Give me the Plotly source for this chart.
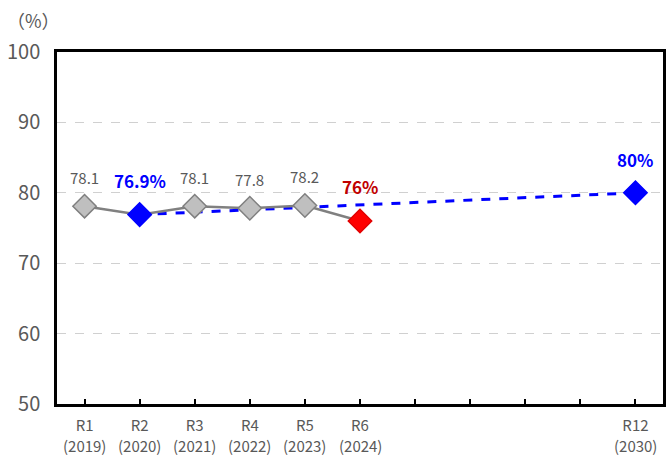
import plotly.graph_objects as go

# 11 category slots: R1..R6, four empty slots, R12
slot_labels = ["R1", "R2", "R3", "R4", "R5", "R6", "", "", "", "", "R12"]
year_labels = ["(2019)", "(2020)", "(2021)", "(2022)", "(2023)", "(2024)", "", "", "", "", "(2030)"]

actual_x = [0, 1, 2, 3, 4, 5]
actual_y = [78.1, 76.9, 78.1, 77.8, 78.2, 76.0]
actual_text = ["78.1", "76.9%", "78.1", "77.8", "78.2", "76%"]

target_x = [1, 10]
target_y = [76.9, 80.0]
target_text = ["76.9%", "80%"]

GRAY_TXT = "#595959"
FONT = "Noto Sans CJK JP, Noto Sans, sans-serif"

fig = go.Figure()

# target (dashed blue)
fig.add_trace(go.Scatter(
    x=target_x, y=target_y, mode="lines",
    line=dict(color="#0000FF", width=3, dash="dash"),
    hoverinfo="skip", showlegend=False,
))

# actual (gray line)
fig.add_trace(go.Scatter(
    x=actual_x, y=actual_y, mode="lines+markers",
    line=dict(color="#808080", width=2.5),
    marker=dict(symbol="diamond", size=18,
                color=["#BFBFBF", "#0000FF", "#BFBFBF", "#BFBFBF", "#BFBFBF", "#FF0000"],
                line=dict(color=["#7F7F7F", "#0000FF", "#7F7F7F", "#7F7F7F", "#7F7F7F", "#E00000"], width=1.5)),
    showlegend=False,
))

# target end point
fig.add_trace(go.Scatter(
    x=[target_x[-1]], y=[target_y[-1]], mode="markers",
    marker=dict(symbol="diamond", size=18, color="#0000FF", line=dict(color="#0000FF", width=1.5)),
    showlegend=False,
))

# data labels
for i, (x, y, t) in enumerate(zip(actual_x, actual_y, actual_text)):
    if i == 1:
        font = dict(size=17, color="#0000FF", family=FONT)
        t = "<b>" + t + "</b>"
        shift = 34
    elif i == 5:
        font = dict(size=17, color="#C00000", family=FONT)
        t = "<b>" + t + "</b>"
        shift = 34
    else:
        font = dict(size=15, color=GRAY_TXT, family=FONT)
        shift = 29
    fig.add_annotation(x=x, y=y, text=t, showarrow=False, yshift=shift, font=font)

fig.add_annotation(x=target_x[-1], y=target_y[-1], text="<b>" + target_text[-1] + "</b>",
                   showarrow=False, yshift=33,
                   font=dict(size=17, color="#0000FF", family=FONT))

# year row under the tick labels
for i, yl in enumerate(year_labels):
    if yl:
        fig.add_annotation(x=i, y=0, yref="paper", yanchor="middle", text=yl,
                           showarrow=False, yshift=-41, borderpad=0,
                           font=dict(size=15, color=GRAY_TXT, family=FONT))

# unit label
fig.add_annotation(x=0, y=1, xref="paper", yref="paper", text="（%）",
                   xanchor="center", yanchor="middle",
                   showarrow=False, xshift=-24, yshift=32,
                   font=dict(size=18, color=GRAY_TXT, family=FONT))

fig.update_xaxes(
    range=[-0.5, 10.5], tickvals=list(range(11)), ticktext=slot_labels,
    ticks="inside", ticklen=5, tickwidth=1.5, tickcolor="black",
    showgrid=False, zeroline=False, ticklabelstandoff=6,
    showline=True, linecolor="black", linewidth=2.5, mirror=True,
    tickfont=dict(size=15, color=GRAY_TXT, family=FONT),
)
fig.update_yaxes(
    range=[50, 100], tickvals=[50, 60, 70, 80, 90, 100],
    showgrid=True, gridcolor="#D0D0D0", griddash="dash", gridwidth=1,
    zeroline=False, ticks="", ticklabelstandoff=10,
    showline=True, linecolor="black", linewidth=2.5, mirror=True,
    tickfont=dict(size=20, color=GRAY_TXT, family=FONT),
)

fig.update_layout(
    width=669, height=457,
    margin=dict(l=57, r=3, t=52, b=53),
    paper_bgcolor="white", plot_bgcolor="white",
    font=dict(family=FONT),
)

fig.write_html("out.html", config={"displayModeBar": False},
               post_script="document.body.style.margin='0';document.body.style.overflow='hidden';")
